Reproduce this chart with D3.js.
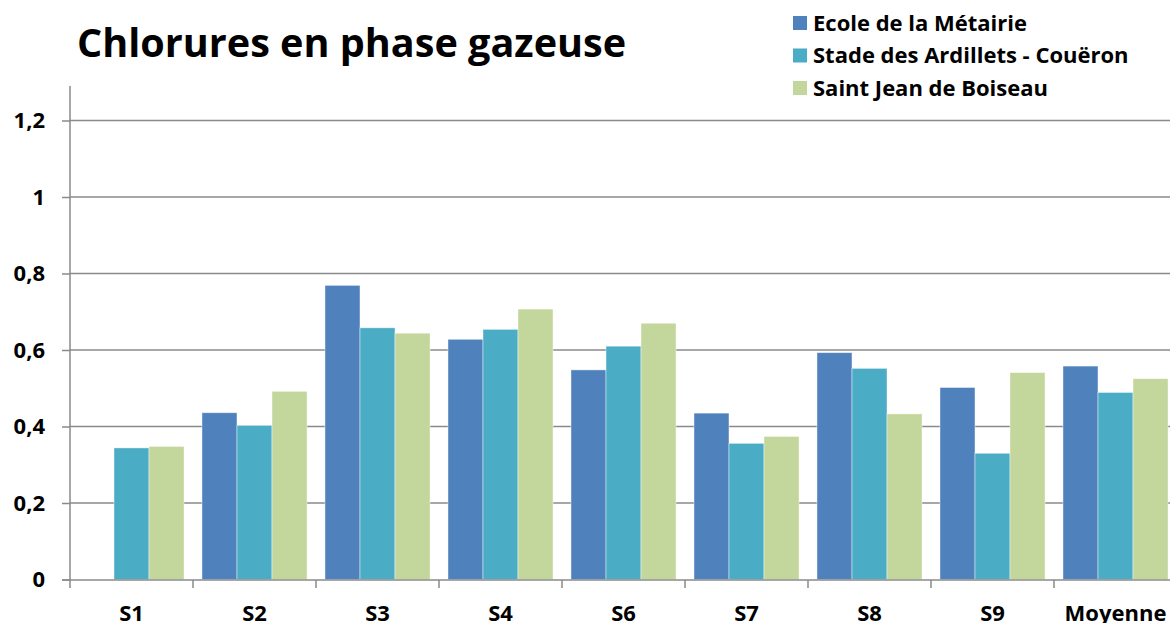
<!DOCTYPE html>
<html><head><meta charset="utf-8">
<script src="https://cdn.jsdelivr.net/npm/d3@7"></script>
<style>body{margin:0;background:#fff;} svg{display:block;font-family:"Open Sans",Lato,sans-serif;font-weight:bold;}</style>
</head><body>
<script>
const categories = ["S1","S2","S3","S4","S6","S7","S8","S9","Moyenne"];
const seriesNames = ["Ecole de la Métairie","Stade des Ardillets - Couëron","Saint Jean de Boiseau"];
const ecole   = [null, 0.436, 0.769, 0.628, 0.548, 0.435, 0.593, 0.502, 0.558];
const stade   = [0.344, 0.403, 0.658, 0.654, 0.610, 0.356, 0.552, 0.330, 0.489];
const stJean  = [0.348, 0.492, 0.644, 0.707, 0.670, 0.374, 0.433, 0.541, 0.525];
const yTicks = [0, 0.2, 0.4, 0.6, 0.8, 1, 1.2];
const colors = ["#4F81BD", "#4BACC6", "#C3D69B"];

const W = 1170, H = 623;
const svg = d3.select("body").append("svg").attr("width", W).attr("height", H);
const x0 = d3.scaleBand().domain(categories).range([70, 1177]).paddingInner(0.146).paddingOuter(0.073);
const x1 = d3.scaleBand().domain(d3.range(3)).range([0, x0.bandwidth()]);
const y = d3.scaleLinear().domain([0, 1.2]).range([579.5, 120.5]);
const xb = d3.scaleBand().domain(categories).range([70, 1177]);

// gridlines
svg.append("g").selectAll("line").data(yTicks.filter(d => d > 0)).join("line")
  .attr("x1", 70).attr("x2", W).attr("y1", d => y(d)).attr("y2", d => y(d))
  .attr("stroke", "#8a8a8a").attr("stroke-width", 1.5);

// bars
const series = [ecole, stade, stJean];
const g = svg.append("g");
series.forEach((vals, si) => {
  g.selectAll(null).data(categories.map((c, i) => ({c, v: vals[i]})).filter(d => d.v != null)).join("rect")
    .attr("x", d => x0(d.c) + x1(si)).attr("width", x1.bandwidth())
    .attr("y", d => y(d.v)).attr("height", d => y(0) - y(d.v))
    .attr("fill", colors[si]).attr("stroke", "rgba(255,255,255,0.55)").attr("stroke-width", 0.8);
});

// y axis
const yAxis = d3.axisLeft(y).tickValues(yTicks).tickSize(8).tickPadding(17)
  .tickFormat(d => String(d).replace(".", ","));
const ya = svg.append("g").attr("transform", "translate(70,0)").call(yAxis);
ya.select(".domain").attr("stroke", "#8a8a8a").attr("stroke-width", 1.5).attr("d", "M-0,86V580");
ya.selectAll(".tick line").attr("stroke", "#8a8a8a").attr("stroke-width", 1.5);
ya.selectAll(".tick text").attr("font-size", 22).attr("font-family", "Open Sans").attr("font-weight", "bold").attr("fill", "#000")
  .attr("dy", "0.34em");

// x axis
const xa = svg.append("g").attr("transform", "translate(0,580)");
xa.append("line").attr("x1", 62).attr("x2", W).attr("y1", 0).attr("y2", 0).attr("stroke", "#8a8a8a").attr("stroke-width", 1.5);
xa.selectAll(".xt").data(categories).join("line").attr("class", "xt")
  .attr("x1", d => xb(d)).attr("x2", d => xb(d)).attr("y1", 0).attr("y2", 8)
  .attr("stroke", "#8a8a8a").attr("stroke-width", 1.5);
xa.selectAll("text").data(categories).join("text")
  .attr("x", d => xb(d) + xb.bandwidth() / 2).attr("y", 41)
  .attr("text-anchor", "middle").attr("font-size", 22).attr("fill", "#000").text(d => d);

// title
svg.append("text").attr("x", 77).attr("y", 57).attr("font-size", 39.6).attr("fill", "#000")
  .text("Chlorures en phase gazeuse");

// legend
const lg = svg.append("g");
seriesNames.forEach((n, i) => {
  lg.append("rect").attr("x", 793).attr("y", 16 + i * 32.5).attr("width", 14).attr("height", 14).attr("fill", colors[i]);
  lg.append("text").attr("x", 813).attr("y", 30.5 + i * 32.5).attr("font-size", 22).attr("fill", "#000").text(n);
});
</script>
</body></html>
